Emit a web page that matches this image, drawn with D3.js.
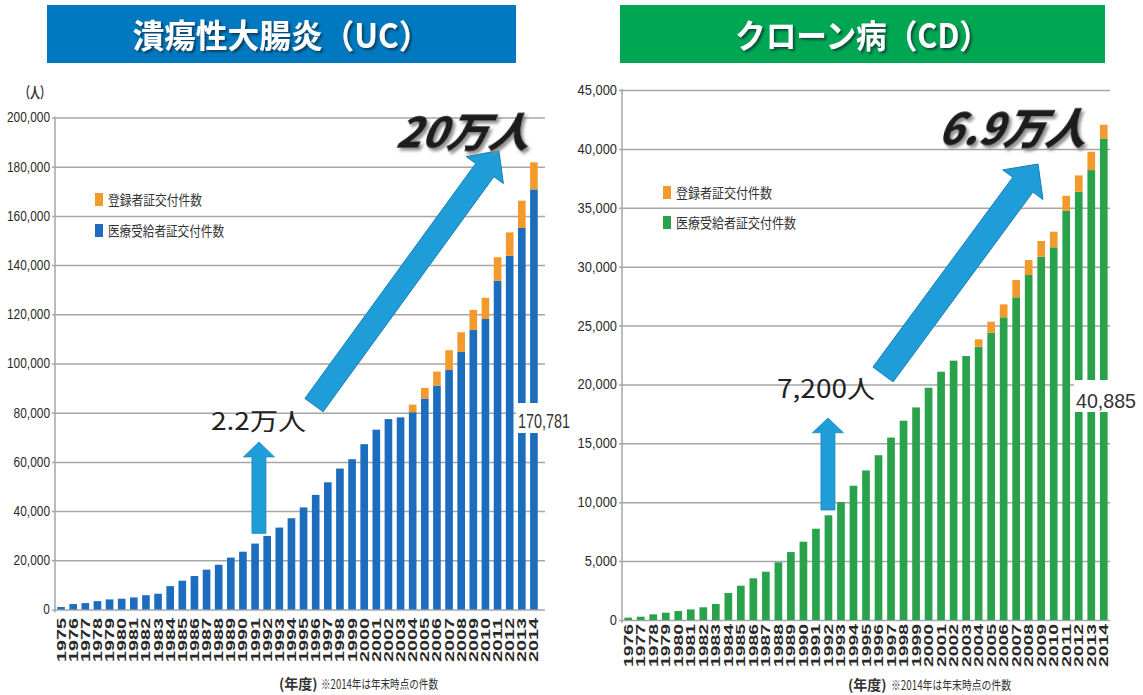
<!DOCTYPE html>
<html><head><meta charset="utf-8">
<script src="https://cdn.jsdelivr.net/npm/d3@7"></script>
<style>body{margin:0;background:#fff}svg{display:block}</style>
</head><body>
<svg id="chart" width="1143" height="695"></svg>
<script>
// ---------- DATA ----------
const ucYears = ["1975","1976","1977","1978","1979","1980","1981","1982","1983","1984","1985","1986","1987","1988","1989","1990","1991","1992","1993","1994","1995","1996","1997","1998","1999","2000","2001","2002","2003","2004","2005","2006","2007","2008","2009","2010","2011","2012","2013","2014"];
const ucMedical = [1000,2200,2600,3400,4100,4400,4900,5800,6400,9500,11700,13600,16200,18200,21100,23500,26800,29900,33300,37100,41500,46600,51700,57300,61100,67200,73100,77400,78100,80200,85800,91000,97400,104700,113600,118100,133600,143800,155100,170781];
const ucRegistered = [0,0,0,0,0,0,0,0,0,0,0,0,0,0,0,0,0,0,0,0,0,0,0,0,0,0,0,0,0,3100,4300,5700,8000,8000,8200,8600,9600,9500,11100,11000];
const ucTicks = [0,20000,40000,60000,80000,100000,120000,140000,160000,180000,200000];

const cdYears = ["1976","1977","1978","1979","1980","1981","1982","1983","1984","1985","1986","1987","1988","1989","1990","1991","1992","1993","1994","1995","1996","1997","1998","1999","2000","2001","2002","2003","2004","2005","2006","2007","2008","2009","2010","2011","2012","2013","2014"];
const cdMedical = [200,280,480,620,760,900,1080,1360,2290,2910,3540,4100,4900,5770,6650,7750,8890,10020,11400,12700,13990,15490,16920,18050,19720,21080,22020,22410,23200,24390,25700,27400,29290,30840,31640,34750,36360,38200,40885];
const cdRegistered = [0,0,0,0,0,0,0,0,0,0,0,0,0,0,0,0,0,0,0,0,0,0,0,0,0,0,0,0,630,940,1100,1470,1270,1340,1330,1270,1390,1560,1160];
const cdTicks = [0,5000,10000,15000,20000,25000,30000,35000,40000,45000];

const legendLabels = ["登録者証交付件数","医療受給者証交付件数"];
const titles = ["潰瘍性大腸炎（UC）","クローン病（CD）"];
const bigTexts = ["20万人","6.9万人"];
const startTexts = ["2.2万人","7,200人"];
const lastLabels = ["170,781","40,885"];
const unitLabel = "（人）";
const noteHead = "(年度)";
const noteText = "※2014年は年末時点の件数";

// ---------- STYLE / LAYOUT ----------
const ORANGE = "#f39a2c";
const ARROW = "#1e9dd8";
const svg = d3.select("#chart");
const defs = svg.append("defs");
defs.append("filter").attr("id","tshadow").attr("x","-10%").attr("y","-20%").attr("width","130%").attr("height","150%")
  .append("feDropShadow").attr("dx",2).attr("dy",2).attr("stdDeviation",1.2).attr("flood-color","#123").attr("flood-opacity",0.7);
defs.append("filter").attr("id","bshadow").attr("x","-10%").attr("y","-20%").attr("width","130%").attr("height","150%")
  .append("feDropShadow").attr("dx",3).attr("dy",3).attr("stdDeviation",1.5).attr("flood-color","#888").attr("flood-opacity",0.9);

function condense(sel, f){
  sel.each(function(){
    const L = this.getComputedTextLength();
    d3.select(this).attr("textLength", L*f).attr("lengthAdjust","spacingAndGlyphs");
  });
}

const panels = [
  {years: ucYears, med: ucMedical, reg: ucRegistered, ticks: ucTicks, yMax: 200000,
   color: "#1c6dbd", banner: "#0079c1", bx: 47, bw: 469, title: titles[0], titleLen: 298,
   axisX: 55, gridEnd: 545, bandR: [55,540], pIn: 0.37, pOut: 0.185, yTop: 117.5, yBot: 609.5,
   tickFont: 14, tickCond: 0.85, xLabOff: -8.5, xLabLen: 44,
   legX: 95, legY: [193,224], legLen: [94,116],
   showUnit: true,
   gap: [403,433], lastLabel: lastLabels[0], lastX: 518, lastY: 428, lastLen: 52,
   small: {i: 16.32, v0: 30950, v1: 68130, sw: 14, hw: 31, hl: 15},
   big: {i0: 20.86, v0: 83080, i1: 36.11, v1: 186520, sw: 22.5, hw: 46, hl: 24},
   start: {text: startTexts[0], x: 211, y: 430, len: 95, fs: 24},
   bigT: {text: bigTexts[0], x: 395, y: 148, len: 133, fs: 42},
   note: {x: 279, y: 689, x2: 321, len: 117}},
  {years: cdYears, med: cdMedical, reg: cdRegistered, ticks: cdTicks, yMax: 45000,
   color: "#2aa24c", banner: "#00a651", bx: 620, bw: 485, title: titles[1], titleLen: 255,
   axisX: 622, gridEnd: 1110, bandR: [622,1110], pIn: 0.385, pOut: 0.19, yTop: 90, yBot: 620,
   tickFont: 14, tickCond: 0.92, xLabOff: -4, xLabLen: 43,
   legX: 663, legY: [186,216], legLen: [96,120],
   showUnit: false,
   gap: [380,412], lastLabel: lastLabels[1], lastX: 1076, lastY: 408, lastLen: 60,
   small: {i: 15.96, v0: 9340, v1: 17150, sw: 14, hw: 31, hl: 14.7},
   big: {i0: 20.36, v0: 20845, i1: 32.75, v1: 38716, sw: 25, hw: 50, hl: 25.7},
   start: {text: startTexts[1], x: 777, y: 398, len: 98, fs: 25},
   bigT: {text: bigTexts[1], x: 937, y: 145, len: 148, fs: 44},
   note: {x: 848, y: 690, x2: 891, len: 120}}
];

function arrowPts(t, h, sw, hw, hl){
  const dx = h[0]-t[0], dy = h[1]-t[1], L = Math.hypot(dx,dy);
  const ux = dx/L, uy = dy/L, nx = -uy, ny = ux;
  const b = [h[0]-ux*hl, h[1]-uy*hl];
  const p = (a,k)=>[a[0]+nx*k, a[1]+ny*k];
  return [p(t,sw/2), p(b,sw/2), p(b,hw/2), h, p(b,-hw/2), p(b,-sw/2), p(t,-sw/2)];
}

panels.forEach(P => {
  const g = svg.append("g");
  // banner
  g.append("rect").attr("x",P.bx).attr("y",5).attr("width",P.bw).attr("height",58).attr("fill",P.banner);
  g.append("text").attr("x",P.bx+P.bw/2).attr("y",48).attr("text-anchor","middle")
    .attr("font-family","'Noto Sans CJK JP'").attr("font-weight",700).attr("font-size",33)
    .attr("fill","#fff").attr("filter","url(#tshadow)")
    .attr("textLength",P.titleLen).attr("lengthAdjust","spacingAndGlyphs").text(P.title);

  const x = d3.scaleBand().domain(P.years).range(P.bandR).paddingInner(P.pIn).paddingOuter(P.pOut);
  const y = d3.scaleLinear().domain([0,P.yMax]).range([P.yBot,P.yTop]);
  const xc = i => x(P.years[0]) + x.bandwidth()/2 + i*x.step();

  // y axis with gridlines
  const ya = g.append("g").attr("transform",`translate(${P.axisX},0)`)
    .call(d3.axisLeft(y).tickValues(P.ticks).tickFormat(d3.format(",")).tickSizeInner(-(P.gridEnd-P.axisX)).tickSizeOuter(0).tickPadding(5));
  ya.select(".domain").remove();
  ya.selectAll(".tick line").attr("x1",-3).attr("stroke","#a6a6a6").attr("stroke-width",1.5);
  ya.selectAll(".tick text").attr("font-family","'Liberation Sans', Arial, sans-serif").attr("font-size",P.tickFont).attr("fill","#2a2a2a");
  condense(ya.selectAll(".tick text"), P.tickCond);
  g.append("line").attr("x1",P.axisX).attr("x2",P.axisX).attr("y1",y(P.yMax)-1).attr("y2",y(0)+3)
    .attr("stroke","#a6a6a6").attr("stroke-width",1.5);

  if (P.showUnit) {
    g.append("text").attr("x",P.axisX-5).attr("y",98).attr("text-anchor","end")
      .attr("font-family","'Noto Sans CJK JP'").attr("font-size",15).attr("fill","#333").attr("font-weight",700)
      .attr("textLength",30).attr("lengthAdjust","spacingAndGlyphs").text(unitLabel);
  }

  // bars
  const bars = g.append("g");
  bars.selectAll(".m").data(P.years).join("rect").attr("class","m")
    .attr("x",d=>x(d)).attr("width",x.bandwidth())
    .attr("y",(d,i)=>y(P.med[i])).attr("height",(d,i)=>y(0)-y(P.med[i])).attr("fill",P.color);
  bars.selectAll(".r").data(P.years.filter((d,i)=>P.reg[i]>0)).join("rect").attr("class","r")
    .attr("x",d=>x(d)).attr("width",x.bandwidth())
    .attr("y",d=>{const i=P.years.indexOf(d);return y(P.med[i]+P.reg[i]);})
    .attr("height",d=>{const i=P.years.indexOf(d);return y(P.med[i])-y(P.med[i]+P.reg[i]);})
    .attr("fill",ORANGE);

  // x axis labels
  const xa = g.append("g").attr("transform",`translate(0,${y(0)})`)
    .call(d3.axisBottom(x).tickSize(0).tickPadding(0));
  xa.select(".domain").remove();
  xa.selectAll(".tick text").attr("transform","rotate(-90)").attr("x",P.xLabOff).attr("y",0).attr("dy","0.36em")
    .attr("text-anchor","end").attr("font-family","'Liberation Sans', Arial, sans-serif").attr("font-weight",700)
    .attr("font-size",12.5).attr("fill","#2a2a2a")
    .attr("textLength",P.xLabLen).attr("lengthAdjust","spacingAndGlyphs");

  // legend
  const legColors = [ORANGE, P.color];
  legendLabels.forEach((lab,k)=>{
    g.append("rect").attr("x",P.legX).attr("y",P.legY[k]).attr("width",8).attr("height",13).attr("fill",legColors[k]);
    g.append("text").attr("x",P.legX+13).attr("y",P.legY[k]+11.5)
      .attr("font-family","'Noto Sans CJK JP'").attr("font-size",13.5).attr("fill","#333")
      .attr("textLength",P.legLen[k]).attr("lengthAdjust","spacingAndGlyphs").text(lab);
  });

  // last value label with white box
  g.append("rect").attr("x",P.lastX-2).attr("y",P.gap[0]).attr("width",P.lastLen+6).attr("height",P.gap[1]-P.gap[0]).attr("fill","#fff");
  g.append("text").attr("x",P.lastX).attr("y",P.lastY)
    .attr("font-family","'Liberation Sans', Arial, sans-serif").attr("font-size",21).attr("fill","#333")
    .attr("textLength",P.lastLen).attr("lengthAdjust","spacingAndGlyphs").text(P.lastLabel);

  // arrows
  const s = P.small;
  const sp = arrowPts([xc(s.i), y(s.v0)], [xc(s.i), y(s.v1)], s.sw, s.hw, s.hl);
  g.append("polygon").attr("points",sp.map(p=>p.join(",")).join(" ")).attr("fill",ARROW).attr("stroke","#1a86bb").attr("stroke-width",0.8);
  const b = P.big;
  const bp = arrowPts([xc(b.i0), y(b.v0)], [xc(b.i1), y(b.v1)], b.sw, b.hw, b.hl);
  g.append("polygon").attr("points",bp.map(p=>p.join(",")).join(" ")).attr("fill",ARROW).attr("stroke","#1a7fb5").attr("stroke-width",1);

  // annotation texts
  const st = P.start;
  g.append("text").attr("x",st.x).attr("y",st.y)
    .attr("font-family","'Noto Sans CJK JP'").attr("font-size",st.fs).attr("fill","#222")
    .attr("textLength",st.len).attr("lengthAdjust","spacingAndGlyphs").text(st.text);
  const bt = P.bigT;
  g.append("text").attr("x",bt.x).attr("y",bt.y)
    .attr("font-family","'Noto Sans CJK JP'").attr("font-weight",900).attr("font-style","italic")
    .attr("font-size",bt.fs).attr("fill","#1a1a1a").attr("filter","url(#bshadow)")
    .attr("transform",`skewX(-10) translate(${bt.y*Math.tan(10*Math.PI/180)},0)`)
    .attr("textLength",bt.len).attr("lengthAdjust","spacingAndGlyphs").text(bt.text);

  // note (two separate texts)
  g.append("text").attr("x",P.note.x).attr("y",P.note.y)
    .attr("font-family","'Noto Sans CJK JP'").attr("fill","#333").attr("font-size",14).attr("font-weight",700)
    .text(noteHead);
  g.append("text").attr("x",P.note.x2).attr("y",P.note.y)
    .attr("font-family","'Noto Sans CJK JP'").attr("fill","#333").attr("font-size",12.5)
    .attr("textLength",P.note.len).attr("lengthAdjust","spacingAndGlyphs").text(noteText);
});
</script>
</body></html>
